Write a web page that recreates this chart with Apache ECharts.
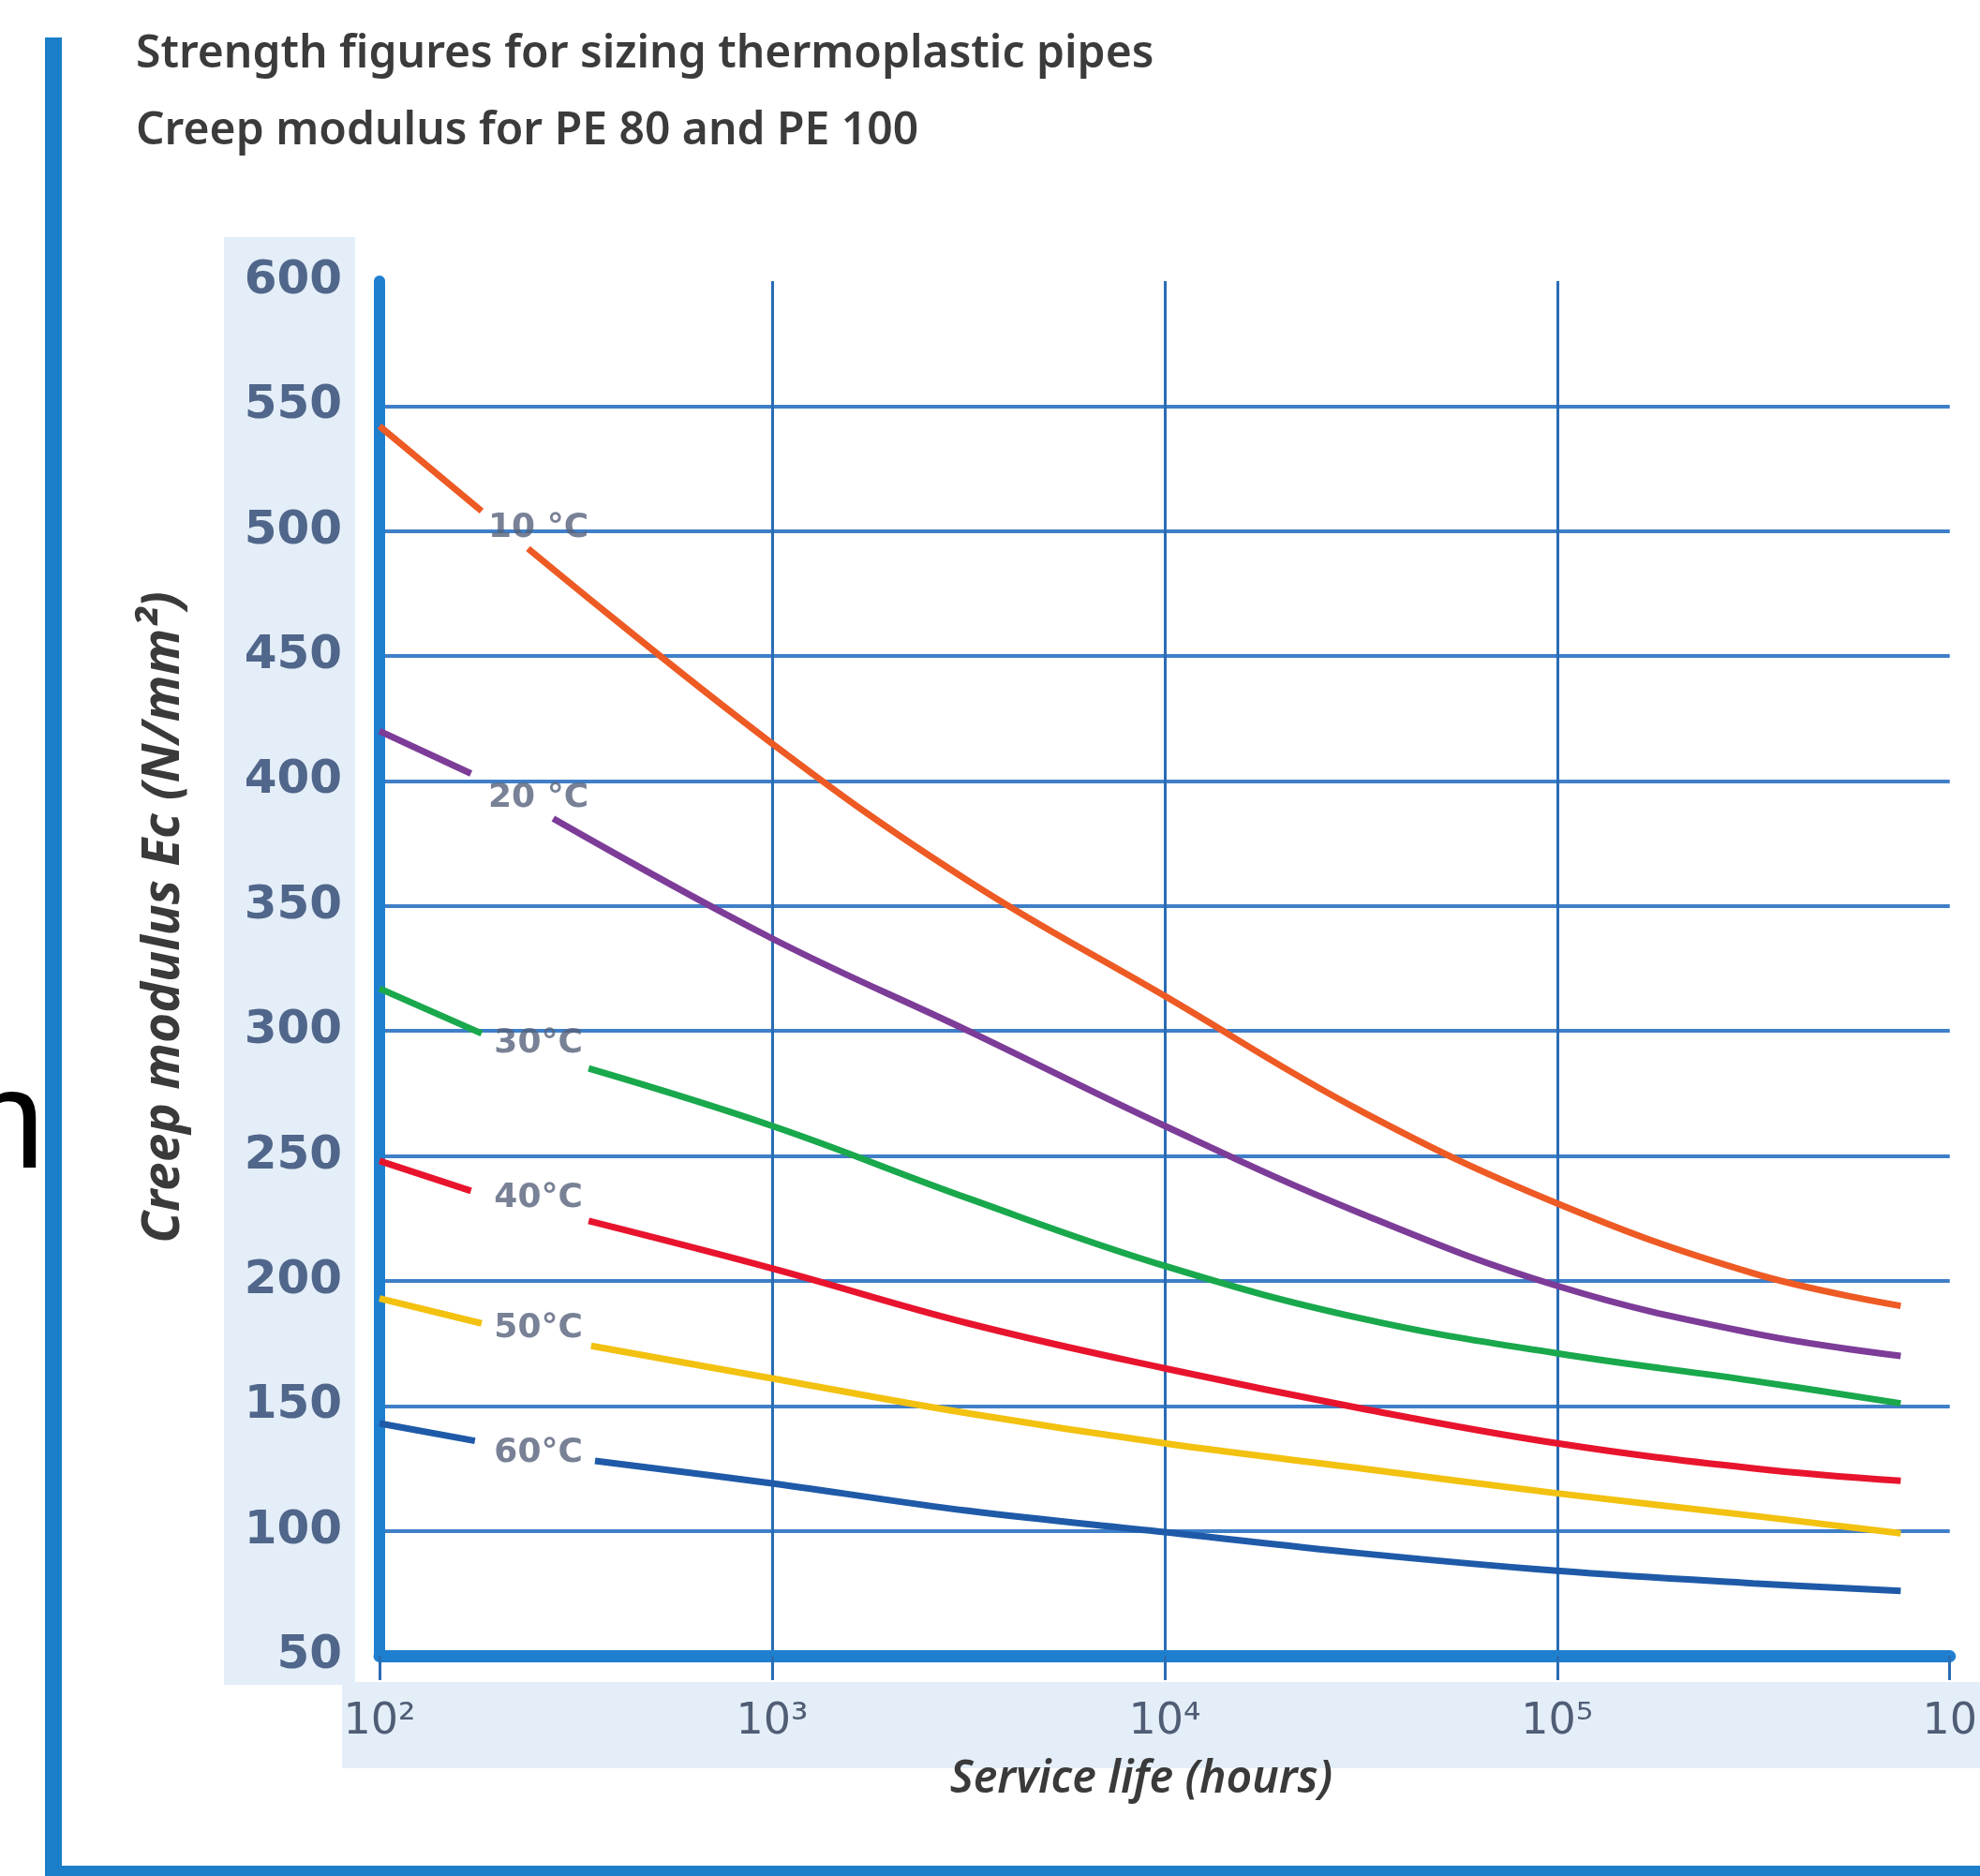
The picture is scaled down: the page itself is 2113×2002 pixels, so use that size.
<!DOCTYPE html>
<html>
<head>
<meta charset="utf-8">
<script src="https://cdn.jsdelivr.net/npm/echarts@6/dist/echarts.min.js"></script>
<style>
  html, body { margin: 0; padding: 0; background: #fff; }
  #graph { width: 2113px; height: 2002px; }
</style>
</head>
<body>
<div id="graph"></div>
<script>
// values: [hours, Ec N/mm²], split where the curve label sits
const t10Before = [[100, 542], [182, 508]];
const t10After = [[239, 493], [1000, 415], [3162, 360], [10000, 314], [31623, 268], [100000, 231], [316228, 203], [750000, 190]];
const t20Before = [[100, 420], [171, 403]];
const t20After = [[277, 385], [1000, 337], [3162, 300], [10000, 262], [31623, 227], [100000, 198], [316228, 179], [750000, 170]];
const t30Before = [[100, 317], [182, 299]];
const t30After = [[341, 285], [1000, 262], [3162, 233], [10000, 206], [31623, 185], [100000, 171], [316228, 160], [750000, 151]];
const t40Before = [[100, 248], [171, 236]];
const t40After = [[341, 224], [1000, 205], [3162, 183], [10000, 165], [31623, 149], [100000, 135], [316228, 125], [750000, 120]];
const t50Before = [[100, 193], [182, 183]];
const t50After = [[346, 174], [1000, 161], [3162, 147], [10000, 135], [31623, 125], [100000, 115], [316228, 106], [750000, 99]];
const t60Before = [[100, 143], [175, 136]];
const t60After = [[354, 128], [1000, 119], [3162, 108], [10000, 99.5], [31623, 91], [100000, 84], [316228, 79], [750000, 76]];

const curveNames = ['10 °C', '20 °C', '30°C', '40°C', '50°C', '60°C'];
const labelAt = [[254, 501], [254, 393], [254, 295], [254, 233], [254, 181], [254, 131]];
const xTickLabels = ['10²', '10³', '10⁴', '10⁵', '10'];

const titleLines = ['Strength figures for sizing thermoplastic pipes', 'Creep modulus for PE 80 and PE 100'];
const yName = 'Creep modulus Ec (N/mm²)';
const xName = 'Service life (hours)';

const curveColors = ['#ee5a24', '#7d3c98', '#19a84c', '#e8142d', '#f3c10f', '#1f5aa8'];
const curves = [
  [t10Before, t10After], [t20Before, t20After], [t30Before, t30After],
  [t40Before, t40After], [t50Before, t50After], [t60Before, t60After]
];

var myChart = echarts.init(document.getElementById('graph'));

const series = [];
curves.forEach(([before, after], i) => {
  [before, after].forEach((seg) => {
    series.push({
      name: curveNames[i],
      type: 'line',
      data: seg,
      smooth: 0.4,
      showSymbol: false,
      lineStyle: { color: curveColors[i], width: 7 },
      z: 3
    });
  });
});
series.push({
  type: 'scatter',
  symbolSize: 0,
  data: labelAt.map((p, i) => ({ value: p, name: curveNames[i] })),
  label: {
    show: true,
    position: 'inside',
    formatter: (p) => p.name,
    fontFamily: 'DejaVu Sans',
    fontWeight: 'bold',
    fontSize: 36,
    color: '#56627a'
  },
  z: 4
});

const option = {
  animation: false,
  backgroundColor: '#ffffff',
  grid: { left: 405, right: 28, top: 300, bottom: 235 },
  xAxis: {
    type: 'log',
    logBase: 10,
    min: 100,
    max: 1000000,
    name: xName,
    nameLocation: 'middle',
    nameGap: 108,
    nameTextStyle: {
      fontFamily: 'Noto Sans', fontStyle: 'italic', fontWeight: 600, fontSize: 48, color: '#3a3a3a',
      padding: [0, 50, 0, 0]
    },
    axisLine: { lineStyle: { color: '#1f7fcf', width: 13 } },
    axisTick: { show: true, length: 26, lineStyle: { color: '#2a6cb5', width: 3 } },
    axisLabel: {
      margin: 48,
      fontFamily: 'DejaVu Sans',
      fontSize: 46,
      color: '#4f5d75',
      formatter: (v) => xTickLabels[Math.round(Math.log10(v)) - 2]
    },
    splitLine: { show: true, showMinLine: false, showMaxLine: false, lineStyle: { color: '#2a6cb5', width: 3 } },
    minorTick: { show: false },
    minorSplitLine: { show: false }
  },
  yAxis: {
    type: 'value',
    min: 50,
    max: 600,
    interval: 50,
    axisLine: { show: true, lineStyle: { color: '#1f7fcf', width: 12 } },
    axisTick: { show: false },
    axisLabel: {
      margin: 40,
      fontFamily: 'DejaVu Sans',
      fontWeight: 'bold',
      fontSize: 50,
      color: '#50668a'
    },
    splitLine: { show: true, showMinLine: false, showMaxLine: false, lineStyle: { color: '#3f7fc8', width: 4 } }
  },
  graphic: [
    // light blue bands behind the tick labels
    { type: 'rect', z: -10, shape: { x: 239, y: 253, width: 140, height: 1545 }, style: { fill: '#e4eef8' } },
    { type: 'rect', z: -10, shape: { x: 365, y: 1795, width: 1748, height: 92 }, style: { fill: '#e4eef8' } },
    // frame lines
    { type: 'rect', shape: { x: 48, y: 40, width: 18, height: 1962 }, style: { fill: '#1a7fc8' } },
    { type: 'rect', shape: { x: 48, y: 1991, width: 2065, height: 11 }, style: { fill: '#1a7fc8' } },
    {
      type: 'text', x: 145, y: 58,
      style: { text: titleLines[0], font: '600 48px "Noto Sans"', fill: '#3b3b3b', textVerticalAlign: 'middle' }
    },
    {
      type: 'text', x: 145, y: 140,
      style: { text: titleLines[1], font: '600 48px "Noto Sans"', fill: '#3b3b3b', textVerticalAlign: 'middle' }
    },
    {
      type: 'text', x: 175, y: 979, rotation: Math.PI / 2,
      style: { text: yName, font: 'italic bold 55px "Noto Sans"', fill: '#3a3a3a', textAlign: 'center', textVerticalAlign: 'middle' }
    },
    {
      type: 'text', x: 48, y: 1205,
      style: { text: 'n', font: '150px "Liberation Sans"', fill: '#000000', textAlign: 'right', textVerticalAlign: 'middle' }
    }
  ],
  series: series
};

myChart.setOption(option);
</script>
</body>
</html>
